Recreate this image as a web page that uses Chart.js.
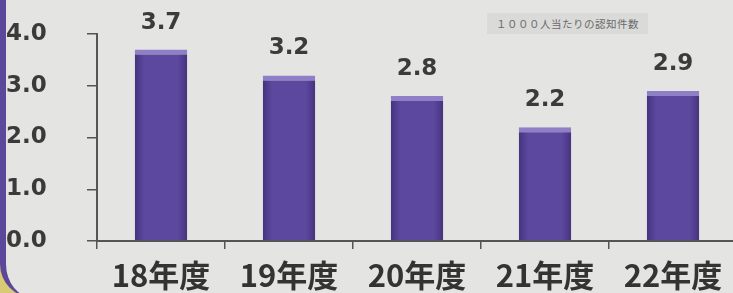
<!DOCTYPE html>
<html lang="ja">
<head>
<meta charset="UTF-8">
<title>1000人当たりの認知件数</title>
<script src="https://cdn.jsdelivr.net/npm/chart.js"></script>
<style>
  html, body { margin: 0; padding: 0; width: 733px; height: 293px; overflow: hidden; background: #d9cb73; }
  .frame { position: absolute; left: 0; top: -20px; width: 760px; height: 318px; background: #e4e4e3;
           border-left: 6px solid #5b489a; border-bottom-left-radius: 34px; box-sizing: border-box; }
  .note { position: absolute; left: 487px; top: 13px; width: 161px; height: 21px; background: #dadad9;
          font: 10.5px "Noto Sans CJK JP", serif; color: #6a6a6a; line-height: 21px; text-align: center; letter-spacing: 0.5px; }
  #chart { position: absolute; left: 0; top: 0; }
</style>
</head>
<body>
<div class="frame"></div>
<canvas id="chart" width="740" height="293"></canvas>
<div class="note">１０００人当たりの認知件数</div>
<script>
  // 年度ごとの値
  const categories = ["18年度", "19年度", "20年度", "21年度", "22年度"];
  const values = [3.7, 3.2, 2.8, 2.2, 2.9];
  const yTicks = [0, 1, 2, 3, 4];

  // 棒の上に数値を描く
  const valueLabels = {
    id: "valueLabels",
    afterDatasetsDraw(chart) {
      const ctx = chart.ctx;
      const meta = chart.getDatasetMeta(0);
      ctx.save();
      ctx.font = "bold 23px 'DejaVu Sans'";
      ctx.fillStyle = "#3b3b3b";
      ctx.textAlign = "center";
      ctx.textBaseline = "alphabetic";
      meta.data.forEach((bar, i) => {
        ctx.fillText(values[i].toFixed(1), bar.x, bar.y - 21);
      });
      ctx.restore();
    }
  };

  const ctx = document.getElementById("chart").getContext("2d");
  new Chart(ctx, {
    type: "bar",
    data: {
      labels: categories,
      datasets: [{
        data: values,
        backgroundColor: (c) => {
          const xs = c.chart.scales.x;
          if (!xs || c.dataIndex === undefined) return "#5a469c";
          const cx = xs.getPixelForValue(c.dataIndex);
          const w = xs.width / categories.length * 0.41;
          if (!Number.isFinite(cx) || !Number.isFinite(w) || w <= 0) return "#5a469c";
          const g = c.chart.ctx.createLinearGradient(cx - w / 2, 0, cx + w / 2, 0);
          g.addColorStop(0, "#45337f");
          g.addColorStop(0.18, "#5c489e");
          g.addColorStop(0.82, "#5c489e");
          g.addColorStop(1, "#45337f");
          return g;
        },
        borderColor: "#8e7fc7",
        borderWidth: { top: 5, left: 0, right: 0, bottom: 0 },
        borderSkipped: false,
        barPercentage: 0.41,
        categoryPercentage: 1
      }]
    },
    options: {
      responsive: false,
      animation: false,
      layout: { padding: { left: 6, right: 3, top: 34, bottom: 0 } },
      plugins: { legend: { display: false }, tooltip: { enabled: false } },
      scales: {
        x: {
          offset: true,
          afterFit: (s) => { s.height = 52; },
          grid: { drawOnChartArea: false, offset: true, tickLength: 8, color: "#555", lineWidth: 1.5 },
          border: { color: "#555", width: 2 },
          ticks: { padding: 8, color: "#333", font: { family: "'Noto Sans CJK JP'", size: 31, weight: "bold" } }
        },
        y: {
          min: 0,
          max: 4,
          afterFit: (s) => { s.width = 91; },
          afterBuildTicks: (s) => { s.ticks = yTicks.map(v => ({ value: v })); },
          grid: { drawOnChartArea: false, tickLength: 10, color: "#555", lineWidth: 1.5 },
          border: { color: "#555", width: 2 },
          ticks: {
            crossAlign: "far",
            color: "#3a3a3a",
            font: { family: "'DejaVu Sans'", size: 23, weight: "bold" },
            callback: (v) => Number(v).toFixed(1)
          }
        }
      }
    },
    plugins: [valueLabels]
  });
</script>
</body>
</html>
